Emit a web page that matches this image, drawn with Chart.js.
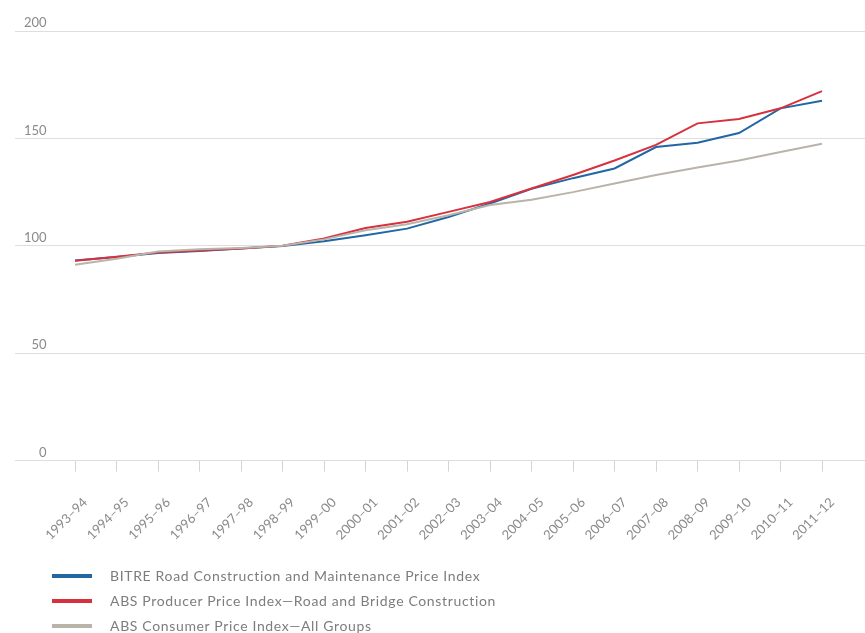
<!DOCTYPE html>
<html>
<head>
<meta charset="utf-8">
<script src="https://cdn.jsdelivr.net/npm/chart.js@4.4.0/dist/chart.umd.min.js"></script>
<style>
  html, body { margin: 0; padding: 0; background: #fff; }
  #wrap { position: relative; width: 865px; height: 633px; }
  #legend { position: absolute; left: 52px; top: 563px; font-family: Lato, "Open Sans", sans-serif; font-size: 14px; letter-spacing: 0.65px; color: #7d7d7d; }
  #legend .item { display: flex; align-items: center; height: 25px; }
  #legend .swatch { width: 40px; height: 4px; margin-right: 18px; }
</style>
</head>
<body>
<div id="wrap">
  <canvas id="chart" width="865" height="633"></canvas>
  <div id="legend"></div>
</div>
<script>
// ===== Data =====
const years = ["1993–94", "1994–95", "1995–96", "1996–97", "1997–98", "1998–99", "1999–00",
  "2000–01", "2001–02", "2002–03", "2003–04", "2004–05", "2005–06", "2006–07", "2007–08",
  "2008–09", "2009–10", "2010–11", "2011–12"];

const bitre = [93.2, 94.8, 96.7, 97.6, 98.7, 99.9, 102.1, 104.9, 108.0, 113.4, 119.7, 126.5,
  131.5, 136.0, 146.0, 148.0, 152.5, 164.0, 167.5];
const absPpi = [93.0, 94.9, 96.9, 97.8, 98.8, 100.0, 103.4, 108.3, 111.2, 115.8, 120.4, 126.7,
  133.0, 139.7, 147.0, 157.0, 159.0, 164.0, 172.0];
const absCpi = [91.2, 94.0, 97.4, 98.4, 99.0, 100.0, 103.0, 107.2, 110.0, 114.2, 119.0, 121.5,
  125.0, 129.0, 133.0, 136.5, 139.7, 143.7, 147.5];

const seriesNames = [
  "BITRE Road Construction and Maintenance Price Index",
  "ABS Producer Price Index—Road and Bridge Construction",
  "ABS Consumer Price Index—All Groups"
];
const yTicks = [0, 50, 100, 150, 200];

const colors = ["#2167a6", "#d8313e", "#b9b4aa"];
const font = "Lato, 'Open Sans', sans-serif";

const toPoints = arr => arr.map((v, i) => ({ x: i, y: v }));

// ===== Chart =====
const ctx = document.getElementById("chart").getContext("2d");
const chart = new Chart(ctx, {
  type: "line",
  data: {
    datasets: [
      { label: seriesNames[0], data: toPoints(bitre), borderColor: colors[0], borderWidth: 2 },
      { label: seriesNames[1], data: toPoints(absPpi), borderColor: colors[1], borderWidth: 2 },
      { label: seriesNames[2], data: toPoints(absCpi), borderColor: colors[2], borderWidth: 2 }
    ].reverse().map(d => ({ ...d, pointRadius: 0, tension: 0, fill: false }))
  },
  options: {
    responsive: false,
    animation: false,
    layout: { padding: { left: 15, right: 0, top: 31, bottom: 67 } },
    plugins: { legend: { display: false }, tooltip: { enabled: false } },
    scales: {
      x: {
        type: "linear",
        min: -1.446,
        max: 19.036,
        afterBuildTicks: scale => { scale.ticks = years.map((y, i) => ({ value: i })); },
        ticks: {
          autoSkip: false,
          maxRotation: 45,
          minRotation: 45,
          padding: 23,
          labelOffset: 10,
          color: "#8a8a8a",
          font: { family: font, size: 13 },
          callback: v => years[v]
        },
        grid: { drawOnChartArea: false, drawTicks: true, tickLength: 11, color: "#d4d4d4" },
        border: { display: false }
      },
      y: {
        min: 0,
        max: 200,
        afterBuildTicks: scale => { scale.ticks = yTicks.map(v => ({ value: v })); },
        afterFit: scale => { scale.width = 0; },
        ticks: {
          mirror: true,
          crossAlign: "far",
          padding: 9,
          labelOffset: -8,
          color: "#8a8a8a",
          font: { family: font, size: 13 }
        },
        grid: { color: "#dedede", drawTicks: false },
        border: { display: false }
      }
    }
  }
});

// ===== Legend =====
const legend = document.getElementById("legend");
seriesNames.forEach((name, i) => {
  legend.innerHTML += `<div class="item"><span class="swatch" style="background:${colors[i]}"></span>${name}</div>`;
});
</script>
</body>
</html>
